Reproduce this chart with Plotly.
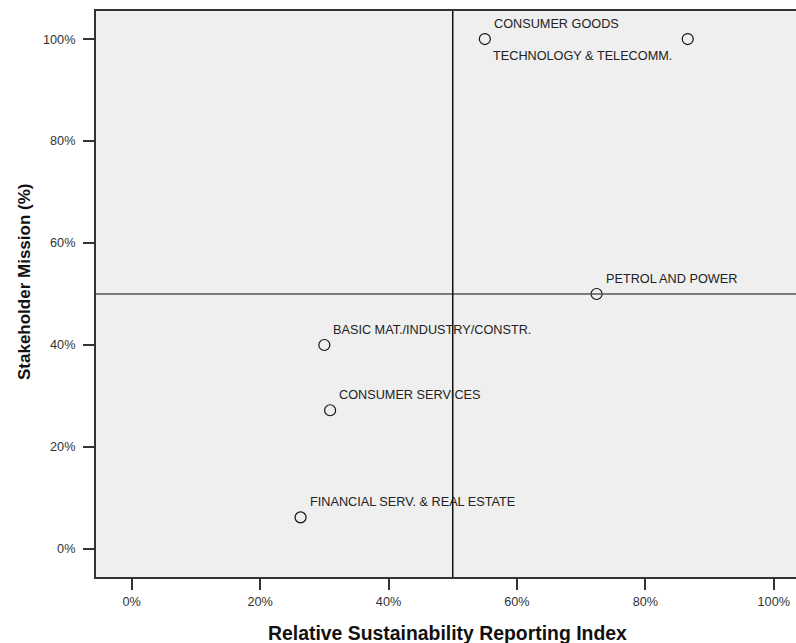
import plotly.graph_objects as go

sectors = ["CONSUMER GOODS", "TECHNOLOGY & TELECOMM.", "PETROL AND POWER",
           "BASIC MAT./INDUSTRY/CONSTR.", "CONSUMER SERVICES", "FINANCIAL SERV. & REAL ESTATE"]
reporting_index = [55.0, 86.6, 72.4, 30.0, 30.9, 26.3]
stakeholder_mission = [100.0, 100.0, 50.0, 40.0, 27.2, 6.2]
tick_vals = [0, 20, 40, 60, 80, 100]
tick_text = ["0%", "20%", "40%", "60%", "80%", "100%"]

FONT = "Liberation Sans, Arial, sans-serif"

fig = go.Figure()
fig.add_trace(go.Scatter(
    x=reporting_index, y=stakeholder_mission, mode="markers",
    marker=dict(symbol="circle-open", size=11, color="#111111", line=dict(width=1.2, color="#111111")),
    hoverinfo="text", text=sectors, showlegend=False,
))

# reference lines at 50%
fig.add_shape(type="line", xref="paper", yref="y", x0=0, x1=1, y0=50, y1=50,
              line=dict(color="#555555", width=1.5))
fig.add_shape(type="line", xref="x", yref="paper", x0=50, x1=50, y0=0, y1=1,
              line=dict(color="#111111", width=1.5))

for name, xv, yv in zip(sectors, reporting_index, stakeholder_mission):
    if name.startswith("TECHNOLOGY"):
        fig.add_annotation(x=xv, y=yv, xref="x", yref="y", text=name, showarrow=False,
                           xanchor="right", yanchor="middle", xshift=-14, yshift=-17,
                           font=dict(family=FONT, size=12.7, color="#222222"))
    else:
        fig.add_annotation(x=xv, y=yv, xref="x", yref="y", text=name, showarrow=False,
                           xanchor="left", yanchor="middle", xshift=7, yshift=15,
                           font=dict(family=FONT, size=12.7, color="#222222"))

fig.add_annotation(text="<b>Relative Sustainability Reporting Index</b>", xref="paper", yref="paper",
                   x=0.502, y=-0.1, xanchor="center", yanchor="middle", yshift=1, showarrow=False,
                   font=dict(family=FONT, size=19.4, color="#111111"))
fig.add_annotation(text="<b>Stakeholder Mission (%)</b>", xref="paper", yref="paper",
                   x=-0.103, y=0.521, xanchor="center", yanchor="middle", textangle=-90, showarrow=False,
                   font=dict(family=FONT, size=17, color="#111111"))

fig.update_xaxes(range=[-5.56, 103.46], tickvals=tick_vals, ticktext=tick_text, automargin=False,
                 showgrid=False, zeroline=False, showline=True, linecolor="#333333", linewidth=2,
                 mirror=True, ticks="outside", ticklen=11, tickwidth=1.5, tickcolor="#333333",
                 tickfont=dict(family=FONT, size=12.7, color="#333333"), ticklabelstandoff=1)
fig.update_yaxes(range=[-5.5, 105.5], tickvals=tick_vals, ticktext=tick_text, automargin=False,
                 showgrid=False, zeroline=False, showline=True, linecolor="#333333", linewidth=2,
                 mirror=False, ticks="outside", ticklen=11, tickwidth=1.5, tickcolor="#333333",
                 tickfont=dict(family=FONT, size=12.7, color="#333333"), ticklabelstandoff=5)

fig.update_layout(width=796, height=643, margin=dict(l=96, r=0, t=11, b=66, autoexpand=False),
                  plot_bgcolor="#efefef", paper_bgcolor="white", showlegend=False)

fig.write_html("out.html", config={"displayModeBar": False},
               post_script="document.body.style.margin='0';document.body.style.overflow='hidden';")
